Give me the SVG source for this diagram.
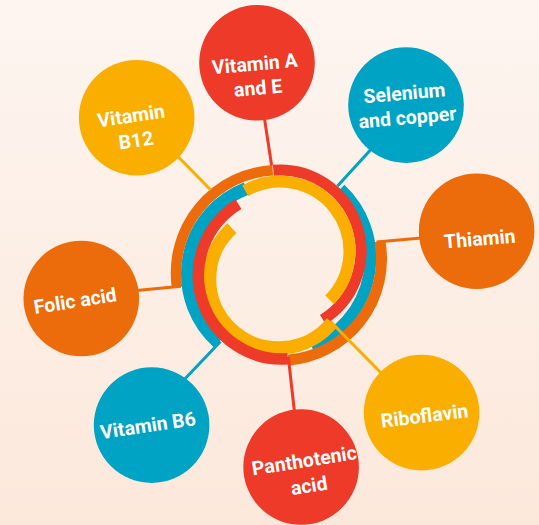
<svg xmlns="http://www.w3.org/2000/svg" width="539" height="525" viewBox="0 0 539 525">
  <defs>
    <linearGradient id="bg" x1="0" y1="0" x2="0" y2="1">
      <stop offset="0" stop-color="#FDF5F0"/>
      <stop offset="1" stop-color="#FCE8DB"/>
    </linearGradient>
    <style>
      .arc { fill: none; stroke-linecap: butt; }
      .conn { fill: none; stroke-width: 3; stroke-linecap: butt; }
      .node { stroke: none; }
      .lbl { font-family: Roboto, "Liberation Sans", sans-serif; font-weight: 700; font-size: 19.5px; fill: #FFFFFF; text-anchor: middle; }
      .red { stroke: #EE3A28; } .orange { stroke: #EC6B0A; } .yellow { stroke: #F9AE00; } .blue { stroke: #00A3C3; }
      .fred { fill: #EE3A28; } .forange { fill: #EC6B0A; } .fyellow { fill: #F9AE00; } .fblue { fill: #00A3C3; }
    </style>
  </defs>
  <rect x="0" y="0" width="539" height="525" fill="url(#bg)"/>

  <g id="rings">
    <path class="arc blue" stroke-width="11.5" d="M340.45 188.88 A94.5 94.5 0 0 1 311.40 345.62"/>
    <path class="arc orange" stroke-width="11" d="M379.96 241.38 A101.5 101.5 0 0 1 287.96 360.19"/>
    <path class="arc red" stroke-width="11" d="M273.36 170.27 A81 81 0 0 1 322.92 319.69"/>
    <path class="arc blue" stroke-width="13" d="M218.37 342.53 A91.5 91.5 0 0 1 246.21 188.58"/>
    <path class="arc yellow" stroke-width="12" d="M245.25 190.81 A69.5 69.5 0 0 1 329.57 299.71"/>
    <path class="arc yellow" stroke-width="13.5" d="M332.12 322.42 A69 69 0 1 1 231.88 228.13"/>
    <path class="arc red" stroke-width="11.5" d="M287.83 358.80 A83.6 83.6 0 0 1 238.44 204.04"/>
    <path class="arc orange" stroke-width="10.5" d="M177.00 287.33 A103 103 0 0 1 272.71 170.19"/>
  </g>

  <g id="connectors">
    <line class="conn red" x1="263.8" y1="114" x2="271.6" y2="165.5"/>
    <line class="conn yellow" x1="175" y1="153.5" x2="210.8" y2="190"/>
    <line class="conn blue" x1="375" y1="145" x2="337.5" y2="186"/>
    <line class="conn orange" x1="424" y1="237.7" x2="376.5" y2="242"/>
    <line class="conn orange" x1="134" y1="290.8" x2="181" y2="286.3"/>
    <line class="conn blue" x1="181" y1="383" x2="220.5" y2="341.5"/>
    <line class="conn red" x1="288.3" y1="357" x2="294.8" y2="415"/>
    <line class="conn yellow" x1="330.5" y1="321.5" x2="384" y2="376"/>
  </g>

  <g id="node-vitamin-a-e">
    <circle class="node fred" cx="257" cy="62.8" r="57.8"/>
    <text class="lbl" x="254.7" y="70.5" transform="rotate(-5 254.7 63.5)">Vitamin A</text>
    <text class="lbl" x="258" y="94.7" transform="rotate(-5 258 87.7)">and E</text>
  </g>
  <g id="node-vitamin-b12">
    <circle class="node fyellow" cx="136.7" cy="117.7" r="57.8"/>
    <text class="lbl" x="131" y="122.5" transform="rotate(-8.5 131 115.5)">Vitamin</text>
    <text class="lbl" x="136" y="147" transform="rotate(-8.5 136 140)">B12</text>
  </g>
  <g id="node-selenium-copper">
    <circle class="node fblue" cx="406" cy="105.1" r="57.8"/>
    <text class="lbl" x="404.4" y="99.8" transform="rotate(-5 404.4 92.8)">Selenium</text>
    <text class="lbl" x="407.4" y="124.2" transform="rotate(-5 407.4 117.2)">and copper</text>
  </g>
  <g id="node-thiamin">
    <circle class="node forange" cx="476.6" cy="231.2" r="57.8"/>
    <text class="lbl" x="479.7" y="245.5" transform="rotate(-4.7 479.7 238.5)">Thiamin</text>
  </g>
  <g id="node-folic-acid">
    <circle class="node forange" cx="81.3" cy="298.5" r="57.8"/>
    <text class="lbl" x="75.1" y="307.6" transform="rotate(-9 75.1 300.6)">Folic acid</text>
  </g>
  <g id="node-vitamin-b6">
    <circle class="node fblue" cx="151.6" cy="425.1" r="57.8"/>
    <text class="lbl" x="147.8" y="432.2" transform="rotate(-8.5 147.8 425.2)">Vitamin B6</text>
  </g>
  <g id="node-panthotenic-acid">
    <circle class="node fred" cx="301.1" cy="467" r="57.8"/>
    <text class="lbl" x="304.2" y="467.3" transform="rotate(-9 304.2 460.3)">Panthotenic</text>
    <text class="lbl" x="309" y="492.4" transform="rotate(-9 309 485.4)">acid</text>
  </g>
  <g id="node-riboflavin">
    <circle class="node fyellow" cx="421.6" cy="412.6" r="57.8"/>
    <text class="lbl" x="424.5" y="422.5" transform="rotate(-7 424.5 415.5)">Riboflavin</text>
  </g>
</svg>
